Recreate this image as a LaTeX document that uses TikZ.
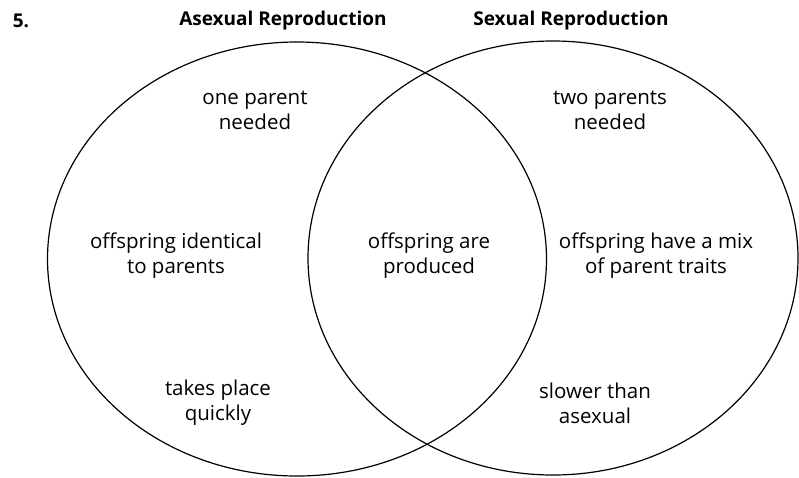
\documentclass[tikz,border=0pt]{standalone}
\usepackage{fontspec}
\setmainfont{Open Sans}
\usetikzlibrary{shapes.geometric}
\begin{document}
\begin{tikzpicture}[x=1pt,y=-1pt,
  venn/.style={draw, ellipse, line width=1.2pt, inner sep=0pt},
  lbl/.style={align=center, font=\fontsize{20.5}{25}\selectfont, inner sep=0pt},
  ttl/.style={font=\bfseries\fontsize{19}{22}\selectfont, inner sep=0pt}]
\useasboundingbox (0,0) rectangle (799,477);
\node[venn, minimum width=499pt, minimum height=434pt] (L) at (297,259) {};
\node[venn, minimum width=490pt, minimum height=434pt] (R) at (553,258) {};
\node[ttl] (num) at (21,21) {5.};
\node[ttl] (tA) at (283,21) {Asexual Reproduction};
\node[ttl] (tS) at (571,21) {Sexual Reproduction};
\node[lbl] (a1) at (255,110) {one parent\\needed};
\node[lbl] (a2) at (176,256) {offspring identical\\to parents};
\node[lbl] (a3) at (218,403) {takes place\\quickly};
\node[lbl] (m1) at (429,256) {offspring are\\produced};
\node[lbl] (s1) at (610,110) {two parents\\needed};
\node[lbl] (s2) at (656,256) {offspring have a mix\\of parent traits};
\node[lbl] (s3) at (595,403) {slower than\\asexual};
\end{tikzpicture}
\end{document}
